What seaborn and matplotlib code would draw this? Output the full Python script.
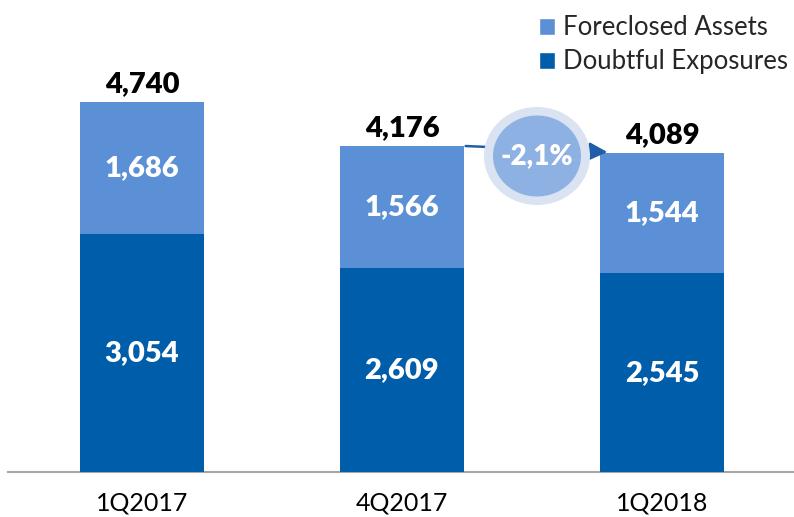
import matplotlib
matplotlib.use("Agg")
import matplotlib.pyplot as plt
import seaborn as sns
import pandas as pd
from matplotlib.patches import Ellipse, Patch

categories = ["1Q2017", "4Q2017", "1Q2018"]
doubtful = [3054, 2609, 2545]
foreclosed = [1686, 1566, 1544]
totals = [4740, 4176, 4089]
change_label = "-2,1%"

light = "#5B8FD6"
dark = "#005DAA"

sns.set_theme(style="white")
plt.rcParams['font.family'] = ['Lato', 'DejaVu Sans']

df = pd.DataFrame({"cat": categories, "doubtful": doubtful,
                   "foreclosed": foreclosed, "total": totals})

fig = plt.figure(figsize=(7.94, 5.17), dpi=100)
ax = fig.add_axes([8/794, 45/517, 1 - 8/794, 472/517])

sns.barplot(data=df, x="cat", y="total", color=light, saturation=1,
            width=0.48, ax=ax, zorder=2, linewidth=0)
sns.barplot(data=df, x="cat", y="doubtful", color=dark, saturation=1,
            width=0.48, ax=ax, zorder=3, linewidth=0)

ax.set_xlim(-0.515, 2.508)
ax.set_ylim(0, 6047)
ax.set_xlabel("")
ax.set_ylabel("")
ax.set_yticks([])
for s in ["top", "right", "left"]:
    ax.spines[s].set_visible(False)
ax.spines["bottom"].set_color("#A6A6A6")
ax.spines["bottom"].set_linewidth(1.5)
ax.tick_params(axis="x", length=0, pad=14, labelsize=18, labelcolor="black")

lab = dict(fontsize=21, fontweight="heavy")
for i in range(len(categories)):
    ax.text(i, totals[i] + 60, f"{totals[i]:,}", ha="center", va="bottom",
            color="black", zorder=5, **lab)
    ax.text(i, doubtful[i] + foreclosed[i] / 2, f"{foreclosed[i]:,}",
            ha="center", va="center", color="white", zorder=5, **lab)
    ax.text(i, doubtful[i] / 2, f"{doubtful[i]:,}", ha="center", va="center",
            color="white", zorder=5, **lab)

# arrow from bar 2 top to bar 3
ax.annotate("", xy=(1.79, totals[2] + 10), xytext=(1.245, totals[1]),
            arrowprops=dict(arrowstyle="-|>,head_length=0.9,head_width=0.45",
                            color="#1F5FA8", lw=1.8, shrinkA=0, shrinkB=0),
            zorder=4)

# bubble
cx, cy = 537 / 794, 1 - 156 / 517
outer = Ellipse((cx, cy), 106 / 794, 98 / 517, transform=fig.transFigure,
                facecolor="#D9E3F2", edgecolor="none", zorder=10)
inner = Ellipse((cx, cy), 88 / 794, 81 / 517, transform=fig.transFigure,
                facecolor="#8EB1E3", edgecolor="none", zorder=11)
fig.patches.extend([outer, inner])
fig.text(cx, cy, change_label, ha="center", va="center", fontsize=20,
         fontweight="heavy", color="white", zorder=12)

handles = [Patch(facecolor=light, label="Foreclosed Assets"),
           Patch(facecolor=dark, label="Doubtful Exposures")]
fig.legend(handles=handles, loc="upper right", bbox_to_anchor=(1.012, 1.0),
           frameon=False, fontsize=18.5, handlelength=0.65, handleheight=0.65,
           handletextpad=0.3, labelspacing=0.35, borderaxespad=0.2)

fig.savefig("out.png", dpi=100)
